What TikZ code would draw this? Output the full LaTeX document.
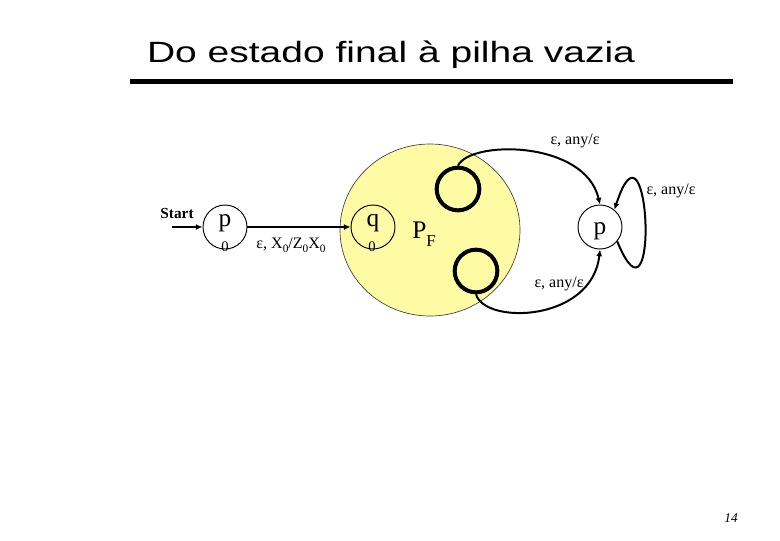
\documentclass[tikz,border=0pt]{standalone}
\usepackage{fontspec}
\setmainfont{Liberation Serif}
\newfontfamily\titlefont[FakeStretch=1.33]{Liberation Sans}
\definecolor{pfyellow}{RGB}{255, 251, 165}
\usetikzlibrary{shapes.geometric, arrows.meta, positioning}
\newcommand{\smallsub}[1]{\raisebox{-0.25em}{\fontsize{8.5}{8.5}\selectfont #1}}

\begin{document}
\begin{tikzpicture}[x=0.75pt, y=-0.75pt,
  state/.style={draw, circle, line width=0.7pt, minimum size=33pt, inner sep=0pt},
  finalstate/.style={draw, circle, line width=3pt, minimum size=32pt, inner sep=0pt},
  trans/.style={-{Latex[length=5pt, width=4.5pt]}, line width=1.5pt},
  translabel/.style={font=\fontsize{12}{12}\selectfont, inner sep=0pt, anchor=base},
  statename/.style={font=\fontsize{19}{19}\selectfont, inner sep=0pt, anchor=base},
  statesub/.style={font=\fontsize{11}{11}\selectfont, inner sep=0pt, anchor=base}]
  \useasboundingbox (0,0) rectangle (780,540);

  % Title and rule
  \node[font=\titlefont\fontsize{22}{22}\selectfont, inner sep=0pt, anchor=base] (title) at (391,62) {Do estado final à pilha vazia};
  \coordinate (rulel) at (130,81.5);
  \coordinate (ruler) at (733,81.5);
  \draw[line width=3.4pt] (rulel) -- (ruler);

  % The PDA P_F
  \node[draw=black!75, fill=pfyellow, ellipse, line width=0.5pt, minimum width=135pt, minimum height=129pt] (pfregion) at (430,230) {};
  \node[font=\fontsize{19}{19}\selectfont, inner sep=0pt, anchor=base] (pflabel) at (424,238) {P\raisebox{-0.32em}{\fontsize{12.5}{12.5}\selectfont F}};
  \node[finalstate] (topc) at (458,189) {};
  \node[finalstate] (botc) at (476,271) {};

  % States
  \node[state] (p0) at (225,227) {};
  \node[statename] (p0name) at (225,226) {p};
  \node[statesub] (p0sub) at (225,251) {0};
  \node[state] (q0) at (373,227) {};
  \node[statename] (q0name) at (373,226) {q};
  \node[statesub] (q0sub) at (372,251) {0};
  \node[state] (pf) at (600,227) {};
  \node[statename] (pfname) at (600,234) {p};

  % Start
  \node[font=\bfseries\fontsize{11.5}{11.5}\selectfont, inner sep=0pt, anchor=base] (start) at (177,218) {Start};
  \coordinate (startin) at (172,227);
  \draw[trans] (startin) -- (p0);

  % Transitions
  \draw[trans] (p0) -- (q0);
  \node[translabel] (push) at (291,248) {ε, X\smallsub{0}/Z\smallsub{0}X\smallsub{0}};
  \draw[trans] (topc.north) .. controls (470,140) and (585,140) .. (pf.north);
  \node[translabel] (toplabel) at (575,144) {ε, any/ε};
  \draw[trans] (botc.south) .. controls (485,325) and (592,322) .. (pf.south);
  \node[translabel] (botlabel) at (559,287) {ε, any/ε};
  \draw[trans] (pf.-40) .. controls (660,345) and (650,100) .. (pf.50);
  \node[translabel] (looplabel) at (671,194) {ε, any/ε};

  % Page number
  \node[font=\itshape\fontsize{10}{10}\selectfont, inner sep=0pt, anchor=base] (pagenum) at (731,522) {14};
\end{tikzpicture}
\end{document}
